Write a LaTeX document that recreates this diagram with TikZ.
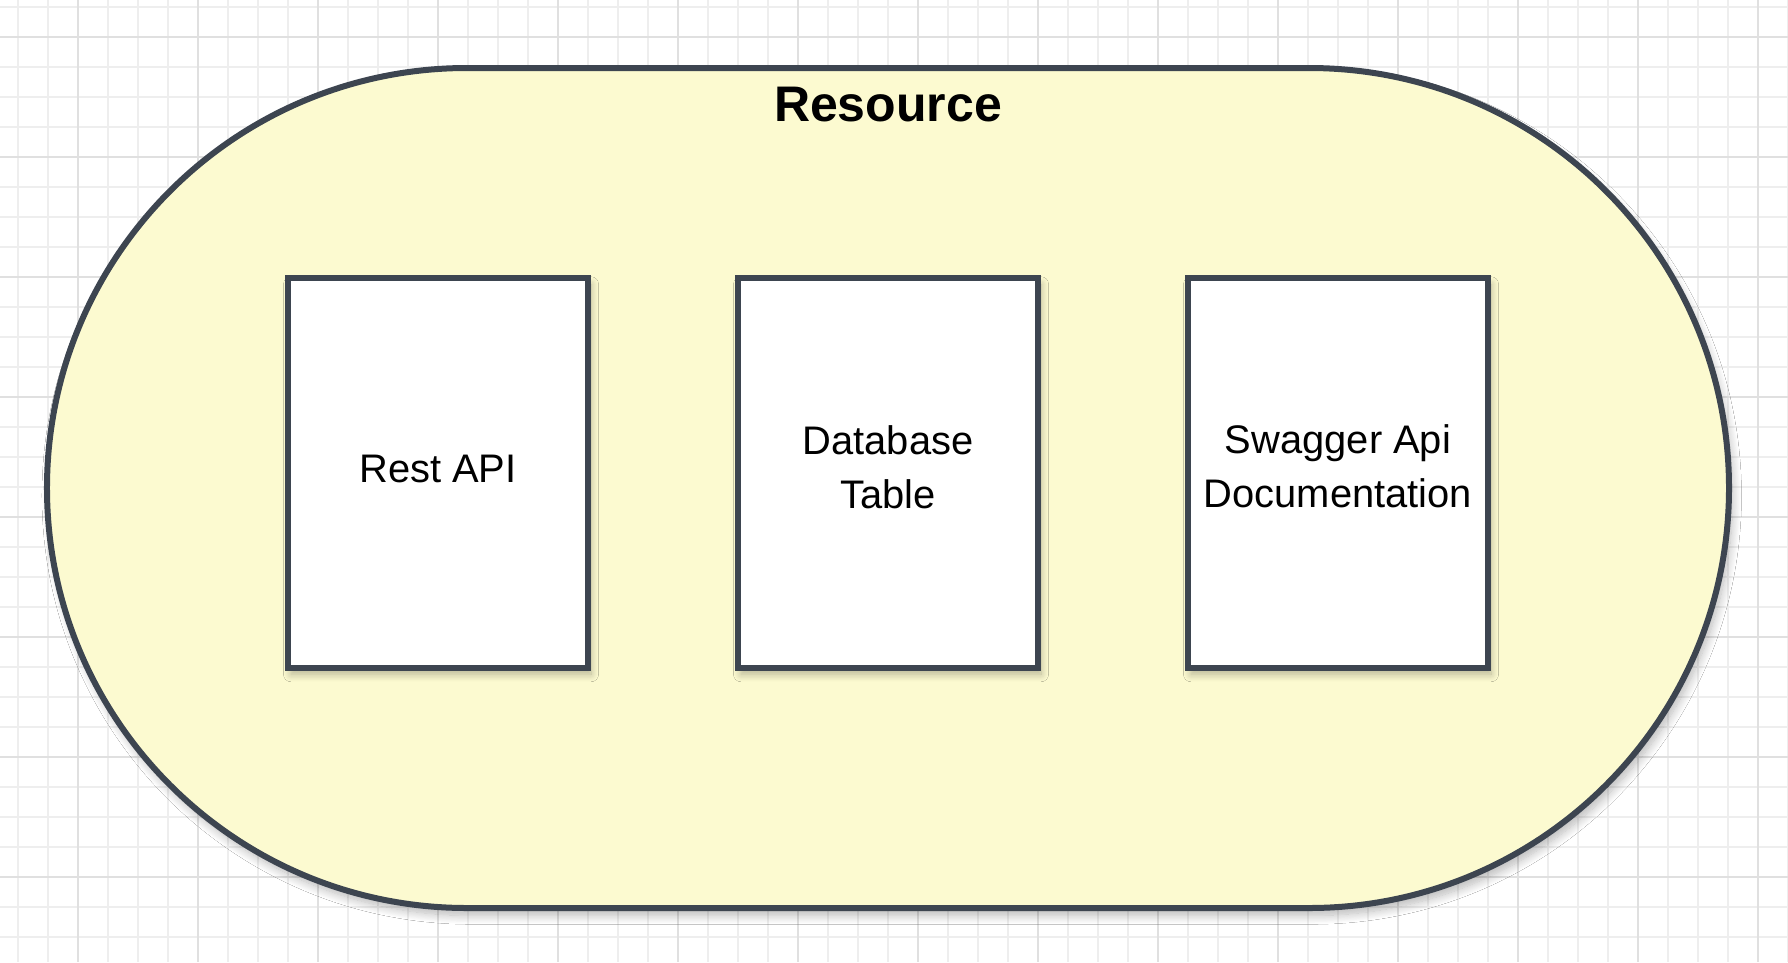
\documentclass[tikz,border=0pt]{standalone}
\usepackage{fontspec}
\setmainfont{Liberation Sans}
\usetikzlibrary{shapes.misc,shadows.blur}
\definecolor{gridminor}{HTML}{EEEEEE}
\definecolor{gridmajor}{HTML}{E0E0E0}
\definecolor{edge}{HTML}{3D4550}
\definecolor{paleyellow}{HTML}{FCFAD0}
\tikzset{
  container/.style={rounded rectangle, draw=edge, line width=2.4pt, fill=paleyellow,
    minimum width=672.8pt, minimum height=336pt, inner sep=0pt,
    blur shadow={shadow xshift=1.5pt, shadow yshift=-3pt, shadow blur radius=3.5pt, shadow blur steps=12, shadow opacity=28}},
  compbox/.style={rectangle, draw=edge, line width=2.4pt, fill=white,
    minimum width=120pt, minimum height=156pt, inner sep=0pt,
    blur shadow={shadow xshift=1.2pt, shadow yshift=-2.5pt, shadow blur radius=3pt, shadow blur steps=10, shadow opacity=28}},
  boxtext/.style={anchor=base, align=center, inner sep=0pt, text=black,
    font=\fontsize{15.95pt}{21.6pt}\selectfont},
  titletext/.style={anchor=base, inner sep=0pt, text=black,
    font=\bfseries\fontsize{20pt}{24pt}\selectfont}
}
\begin{document}
\begin{tikzpicture}[x=0.4pt,y=-0.4pt]
\useasboundingbox (0,0) rectangle (1788,962);
\fill[white] (0,0) rectangle (1788,962);
% grid
\foreach \gx in {18,48,...,1788} {\draw[gridminor, line width=0.5pt] (\gx,0) -- (\gx,962);}
\foreach \gy in {7,37,...,962} {\draw[gridminor, line width=0.5pt] (0,\gy) -- (1788,\gy);}
\foreach \gx in {78,198,...,1788} {\draw[gridmajor, line width=0.6pt] (\gx,0) -- (\gx,962);}
\foreach \gy in {37,157,...,962} {\draw[gridmajor, line width=0.6pt] (0,\gy) -- (1788,\gy);}
% container
\node[container] (resource) at (888,488) {};
\node[titletext] (title) at (888,121) {Resource};
% boxes
\node[compbox] (rest) at (438,473) {};
\node[compbox] (db) at (888,473) {};
\node[compbox] (swagger) at (1338,473) {};
\node[boxtext] (resttext) at (438,482) {Rest API};
\node[boxtext] (dbtext) at (888,508) {Database\\Table};
\node[boxtext] (swaggertext) at (1338,507) {Swagger Api\\Documentation};
\end{tikzpicture}
\end{document}
